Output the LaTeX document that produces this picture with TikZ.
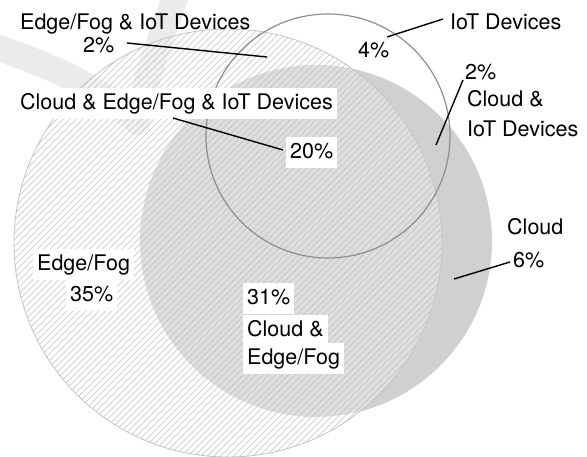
\documentclass[tikz,border=0pt]{standalone}
\usepackage{fontspec}
\setmainfont{TeX Gyre Heros}
\definecolor{cloudgray}{HTML}{D0D0D0}
\definecolor{hatchgray}{HTML}{BEBEBE}
\definecolor{edgeline}{HTML}{C4C4C4}
\definecolor{iotline}{HTML}{8E8E8E}
\definecolor{bandgray}{HTML}{EBEBEB}
\tikzset{
  lbl/.style={font=\fontsize{21.5}{25}\selectfont, inner sep=0pt, anchor=base west},
  lblbox/.style={lbl, fill=white, inner xsep=4pt, inner ysep=4pt, text height=18pt, text depth=5pt},
  leader/.style={draw=black, line width=1.4pt},
}
\begin{document}
\begin{tikzpicture}[x=1pt,y=-1pt]
\useasboundingbox (0,0) rectangle (587,457);
% faint watermark band
\draw[bandgray, line width=26pt, line join=round, line cap=butt]
  (-5,47) .. controls (60,68) and (110,95) .. (137,122)
  .. controls (145,80) and (160,40) .. (176,-5);
% Cloud circle
\fill[cloudgray] (316,241) circle (176);
% Edge/Fog circle
\fill[white, opacity=0.3] (228,243) circle (214);
\begin{scope}
  \clip (228,243) circle (214);
  \foreach \c in {160,166.5,...,790} {
    \draw[hatchgray, line width=0.55pt] (\c,-10) -- ++(-620,620);
  }
\end{scope}
\draw[edgeline, line width=0.8pt] (228,243) circle (214);
% IoT circle
\draw[iotline, line width=1.2pt] (328,136) circle (122);

% labels
\node[lbl] (efiot) at (20,30) {Edge/Fog \& IoT Devices};
\node[lbl] (efiotp) at (83,53) {2\%};
\node[lblbox] (all) at (16,110) {Cloud \& Edge/Fog \& IoT Devices};
\node[lblbox] (allp) at (286,159) {20\%};
\node[lbl] (iot) at (450,30) {IoT Devices};
\node[lbl] (iotp) at (358,58) {4\%};
\node[lbl] (ciotp) at (465,80) {2\%};
\node[lbl] (ciot1) at (467,107) {Cloud \&};
\node[lbl] (ciot2) at (467,137) {IoT Devices};
\node[lbl] (cl) at (507,235) {Cloud};
\node[lbl] (clp) at (513,268) {6\%};
\node[lblbox] (ef) at (33,271) {Edge/Fog};
\node[lblbox] (efp) at (66,302) {35\%};
\node[lblbox] (cefp) at (243,305) {31\%};
\node[lblbox] (cef1) at (243,337) {Cloud \&};
\node[lblbox] (cef2) at (243,365) {Edge/Fog};

% leader lines
\coordinate (a1) at (127,43);   \coordinate (b1) at (267,57);
\coordinate (a2) at (173,118);  \coordinate (b2) at (283,150);
\coordinate (a3) at (443,19);   \coordinate (b3) at (387,37);
\coordinate (a4) at (463,80);   \coordinate (b4) at (436,145);
\coordinate (a5) at (510,262);  \coordinate (b5) at (454,279);
\draw[leader] (a1) -- (b1);
\draw[leader] (a2) -- (b2);
\draw[leader] (a3) -- (b3);
\draw[leader] (a4) -- (b4);
\draw[leader] (a5) -- (b5);
\end{tikzpicture}
\end{document}
